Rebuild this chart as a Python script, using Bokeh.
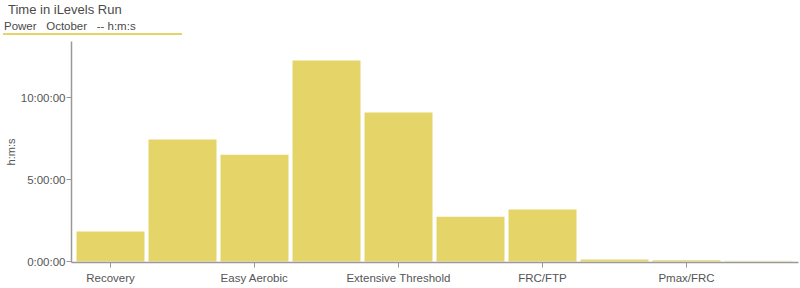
from bokeh.plotting import figure
from bokeh.models import ColumnDataSource, FixedTicker, Div, Range1d
from bokeh.layouts import column
from bokeh.embed import file_html
from bokeh.resources import INLINE

title_text = "Time in iLevels Run"
subtitle_text = "Power   October   -- h:m:s"
levels = ["Recovery", "Endurance", "Easy Aerobic", "Aerobic", "Extensive Threshold",
          "Intensive Threshold", "FRC/FTP", "FRC", "Pmax/FRC", "Pmax"]
durations = ["1:50:00", "7:27:00", "6:31:00", "12:16:00", "9:05:00",
             "2:44:00", "3:10:00", "0:07:00", "0:05:00", "0:04:00"]
shown_labels = [0, 2, 4, 6, 8]
y_ticks = [0, 5, 10]
y_tick_labels = ["0:00:00", "5:00:00", "10:00:00"]


def to_hours(s):
    h, m, sec = (int(v) for v in s.split(":"))
    return h + m / 60 + sec / 3600


hours = [to_hours(d) for d in durations]
colors = ["#E5D468"] * (len(levels) - 1) + ["#F7F0CC"]
src = ColumnDataSource(dict(x=list(range(len(levels))), top=hours, color=colors, name=levels))

FONT = "Liberation Sans"

header = Div(
    text=(
        f'<div style="position:relative;width:800px;height:41px;font-family:\'{FONT}\',Arial,sans-serif;">'
        f'<div style="position:absolute;left:8px;top:1px;font-size:13px;color:#4a4a4a;white-space:pre">{title_text}</div>'
        f'<div style="position:absolute;left:4px;top:18px;font-size:11.5px;color:#4a4a4a;white-space:pre">{subtitle_text}</div>'
        '<div style="position:absolute;left:3px;top:33px;width:179px;height:2px;background:#E5D468"></div>'
        '</div>'
    ),
    width=800, height=41, margin=0,
)

p = figure(width=800, height=247, output_backend="svg", toolbar_location=None,
           x_range=Range1d(-0.5417, 9.5556), y_range=Range1d(-0.06, 13.42),
           min_border_left=71, min_border_right=2, min_border_top=0, min_border_bottom=26,
           outline_line_color=None, margin=0)
p.vbar(x="x", top="top", bottom=0, width=0.944, color="color", line_color=None, source=src)

p.xgrid.visible = False
p.ygrid.visible = False

p.xaxis.ticker = FixedTicker(ticks=shown_labels)
p.xaxis.major_label_overrides = {i: levels[i] for i in shown_labels}
p.yaxis.ticker = FixedTicker(ticks=y_ticks)
p.yaxis.major_label_overrides = dict(zip(y_ticks, y_tick_labels))
p.yaxis.axis_label = "h:m:s"

for ax in (p.xaxis, p.yaxis):
    ax.axis_line_color = "#999999"
    ax.axis_line_width = 1.5
    ax.major_tick_line_color = "#999999"
    ax.major_tick_in = 0
    ax.major_tick_out = 5
    ax.minor_tick_line_color = None
    ax.major_label_text_font = FONT
    ax.major_label_text_font_size = "11.5px"
    ax.major_label_text_color = "#555555"
    ax.axis_label_text_font = FONT
    ax.axis_label_text_font_size = "11px"
    ax.axis_label_text_font_style = "normal"
    ax.axis_label_text_color = "#555555"
p.yaxis.major_label_standoff = 1
p.xaxis.major_label_standoff = 4
p.yaxis.axis_label_standoff = 1

layout = column(header, p, spacing=0, margin=0)
open("out.html", "w").write(file_html(layout, INLINE))
